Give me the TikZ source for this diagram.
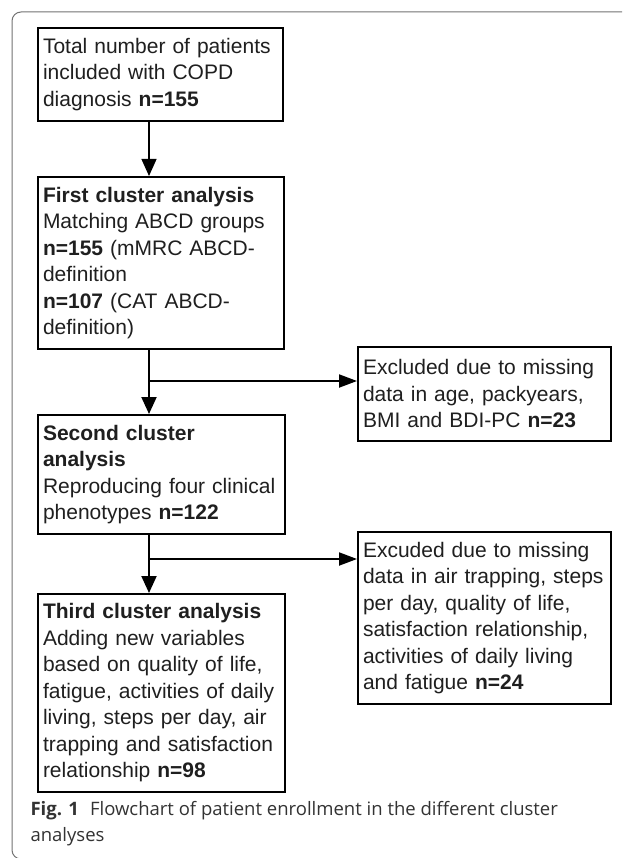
\documentclass[tikz,border=0pt]{standalone}
\usepackage{fontspec}
\setmainfont{Liberation Sans}
\newfontfamily\capfont{Open Sans}
\usetikzlibrary{arrows.meta}
\begin{document}
\begin{tikzpicture}[x=1pt,y=-1pt,
  box/.style={draw=black, line width=2pt, anchor=north west, align=left,
    inner xsep=5pt, inner ysep=0pt, text=black!88,
    font=\fontsize{21}{26.5}\selectfont},
  thinarrow/.style={line width=1.2pt, -{Triangle[length=17pt,width=15pt]}},
  downarrow/.style={line width=2pt, -{Triangle[length=17pt,width=15pt]}},
  sidearrow/.style={line width=2pt, -{Triangle[length=18pt,width=13pt]}},
  frameline/.style={draw=black!55, line width=1pt, rounded corners=9pt},
  captext/.style={anchor=base west, text=black!80,
    font=\capfont\fontsize{18.5}{22}\selectfont}]
\useasboundingbox (0,0) rectangle (622,858);
\clip (0,0) rectangle (622,858);
\fill[white] (0,0) rectangle (622,858);
\draw[frameline] (650,12) -- (12,12) -- (12,859) -- (650,859);

\node[box, text width=235pt, minimum height=93pt] (b1) at (37,27)
  {Total number of patients\\included with COPD\\diagnosis \textbf{n=155}};
\node[box, text width=236pt, minimum height=172pt] (b2) at (37,176)
  {\textbf{First cluster analysis}\\Matching ABCD groups\\\textbf{n=155} (mMRC ABCD-\\definition\\\textbf{n=107} (CAT ABCD-\\definition)};
\node[box, text width=243pt, minimum height=94pt] (e1) at (357,346)
  {Excluded due to missing\\data in age, packyears,\\BMI and BDI-PC \textbf{n=23}};
\node[box, text width=237pt, minimum height=119pt] (b3) at (37,414)
  {\textbf{Second cluster}\\\textbf{analysis}\\Reproducing four clinical\\phenotypes \textbf{n=122}};
\node[box, text width=243pt, minimum height=172pt] (e2) at (357,531)
  {Excuded due to missing\\data in air trapping, steps\\per day, quality of life,\\satisfaction relationship,\\activities of daily living\\and fatigue \textbf{n=24}};
\node[box, text width=237pt, minimum height=198pt] (b4) at (37,593)
  {\textbf{Third cluster analysis}\\Adding new variables\\based on quality of life,\\fatigue, activities of daily\\living, steps per day, air\\trapping and satisfaction\\relationship \textbf{n=98}};

\coordinate (spine) at (149,0);
\coordinate (br1) at (149,381);
\coordinate (br2) at (149,559);
\draw[thinarrow] (b1.south -| spine) -- (b2.north -| spine);
\draw[downarrow] (b2.south -| spine) -- (b3.north -| spine);
\draw[sidearrow] (br1) -- (br1 -| e1.west);
\draw[downarrow] (b3.south -| spine) -- (b4.north -| spine);
\draw[sidearrow] (br2) -- (br2 -| e2.west);

\node[captext] (cap1) at (27,815)
  {\textbf{Fig. 1}\hspace{11pt}Flowchart of patient enrollment in the different cluster};
\node[captext] (cap2) at (27,841) {analyses};
\end{tikzpicture}
\end{document}
